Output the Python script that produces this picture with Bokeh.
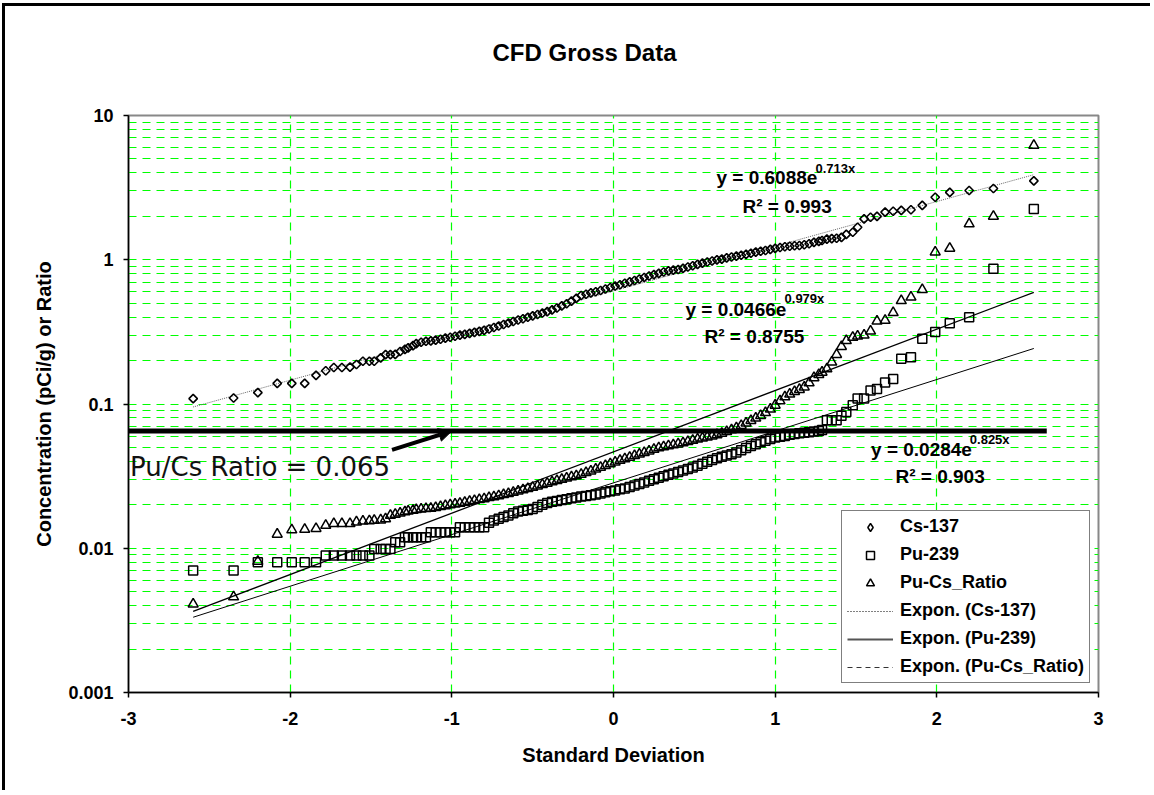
import math
from bokeh.plotting import figure
from bokeh.models import (ColumnDataSource, FixedTicker, Label, Arrow, NormalHead,
                          Legend, LegendItem, Range1d, Title)
from bokeh.embed import file_html
from bokeh.resources import INLINE

# ---------------- data ----------------
Z = [-2.60, -2.35, -2.20, -2.08, -1.99, -1.91, -1.84, -1.78, -1.73, -1.68,
     -1.63, -1.59, -1.55, -1.51, -1.48, -1.44, -1.41, -1.38, -1.35, -1.32,
     -1.29, -1.27, -1.24, -1.22, -1.19,
     -1.16, -1.13, -1.10, -1.07, -1.04, -1.01, -0.98, -0.95, -0.92, -0.89,
     -0.86, -0.83, -0.80, -0.77, -0.74, -0.71, -0.68, -0.65, -0.62, -0.59,
     -0.56, -0.53, -0.50, -0.47, -0.44, -0.41, -0.38, -0.35, -0.32, -0.29,
     -0.26, -0.23, -0.20, -0.17, -0.14, -0.11, -0.08, -0.05, -0.02, 0.01,
     0.04, 0.07, 0.10, 0.13, 0.16, 0.19, 0.22, 0.25, 0.28, 0.31,
     0.34, 0.37, 0.40, 0.43, 0.46, 0.49, 0.52, 0.55, 0.58, 0.61,
     0.64, 0.67, 0.70, 0.73, 0.76, 0.79, 0.82, 0.85, 0.88, 0.91,
     0.94, 0.97, 1.00, 1.03, 1.06, 1.09, 1.12, 1.15, 1.18,
     1.21, 1.24, 1.27, 1.29, 1.32, 1.35, 1.38, 1.41, 1.44, 1.48,
     1.51, 1.55, 1.59, 1.63, 1.68, 1.73, 1.78, 1.84, 1.91, 1.99,
     2.08, 2.20, 2.35, 2.60]

CS137 = [0.109, 0.110, 0.120, 0.139, 0.139, 0.139, 0.158, 0.170, 0.179, 0.179,
         0.180, 0.188, 0.198, 0.198, 0.198, 0.209, 0.220, 0.220, 0.221, 0.231,
         0.239, 0.245, 0.254, 0.262, 0.268,
         0.272, 0.274, 0.277, 0.281, 0.286, 0.290, 0.295, 0.300, 0.304, 0.309,
         0.314, 0.319, 0.324, 0.331, 0.339, 0.347, 0.356, 0.364, 0.373, 0.382,
         0.390, 0.399, 0.408, 0.417, 0.427, 0.437, 0.449, 0.463, 0.479, 0.495,
         0.517, 0.540, 0.565, 0.577, 0.589, 0.600, 0.612, 0.627, 0.642, 0.657,
         0.671, 0.687, 0.703, 0.718, 0.736, 0.754, 0.772, 0.789, 0.805, 0.822,
         0.838, 0.847, 0.855, 0.872, 0.890, 0.909, 0.929, 0.947, 0.965, 0.980,
         0.998, 1.01, 1.03, 1.045, 1.06, 1.075, 1.09, 1.11, 1.13, 1.145,
         1.16, 1.18, 1.20, 1.215, 1.23, 1.24, 1.25, 1.255, 1.27,
         1.29, 1.32, 1.34, 1.36, 1.39, 1.40, 1.41, 1.43, 1.50, 1.55,
         1.68, 1.92, 1.97, 2.00, 2.14, 2.17, 2.20, 2.22, 2.38, 2.71,
         2.93, 3.02, 3.12, 3.52]

PU239 = [0.0070, 0.0070, 0.0080, 0.0080, 0.0080, 0.0080, 0.0080, 0.0089, 0.0089, 0.0089,
         0.0089, 0.0089, 0.0089, 0.0089, 0.0099, 0.0099, 0.0099, 0.0099, 0.0110, 0.0110,
         0.0119, 0.0119, 0.0119, 0.0119, 0.0119,
         0.0119, 0.0129, 0.0129, 0.0129, 0.0129, 0.0129, 0.0129, 0.0140, 0.0140, 0.0140,
         0.0140, 0.0140, 0.0140, 0.0150, 0.0156, 0.0160, 0.0165, 0.0169, 0.0175, 0.0180,
         0.0182, 0.0184, 0.0187, 0.0193, 0.0200, 0.0206, 0.0210, 0.0213, 0.0216, 0.0219,
         0.0222, 0.0225, 0.0228, 0.0230, 0.0233, 0.0236, 0.0240, 0.0244, 0.0248, 0.0251,
         0.0256, 0.0260, 0.0266, 0.0272, 0.0279, 0.0286, 0.0294, 0.0301, 0.0308, 0.0315,
         0.0323, 0.0330, 0.0338, 0.0346, 0.0354, 0.0363, 0.0373, 0.0386, 0.0397, 0.0409,
         0.0420, 0.0431, 0.0440, 0.0449, 0.0462, 0.0478, 0.0495, 0.0511, 0.0526, 0.0542,
         0.0556, 0.0571, 0.0585, 0.0592, 0.0600, 0.0611, 0.0620, 0.0626, 0.0632,
         0.0638, 0.0645, 0.0650, 0.0660, 0.0770, 0.0770, 0.0770, 0.0830, 0.0880, 0.0980,
         0.109, 0.109, 0.124, 0.127, 0.141, 0.149, 0.206, 0.211, 0.283, 0.315,
         0.363, 0.400, 0.865, 2.25]

PU_CS_RATIO = [0.0041, 0.0046, 0.0081, 0.0125, 0.0134, 0.0135, 0.0137, 0.0144, 0.0148, 0.0148,
               0.0148, 0.0152, 0.0154, 0.0155, 0.0156, 0.0157, 0.0160, 0.0169, 0.0172, 0.0175,
               0.0179, 0.0181, 0.0183, 0.0185, 0.0187,
               0.0188, 0.0189, 0.0191, 0.0194, 0.0197, 0.0200, 0.0202, 0.0205, 0.0208, 0.0211,
               0.0214, 0.0217, 0.0220, 0.0224, 0.0227, 0.0231, 0.0235, 0.0239, 0.0244, 0.0249,
               0.0254, 0.0259, 0.0264, 0.0270, 0.0276, 0.0282, 0.0288, 0.0294, 0.0300, 0.0306,
               0.0312, 0.0318, 0.0325, 0.0334, 0.0343, 0.0353, 0.0364, 0.0374, 0.0385, 0.0395,
               0.0406, 0.0417, 0.0427, 0.0438, 0.0449, 0.0460, 0.0472, 0.0484, 0.0496, 0.0505,
               0.0513, 0.0520, 0.0528, 0.0537, 0.0548, 0.0559, 0.0570, 0.0579, 0.0589, 0.0599,
               0.0612, 0.0626, 0.0643, 0.0662, 0.0684, 0.0709, 0.0738, 0.0768, 0.0798, 0.0830,
               0.0870, 0.0920, 0.0980, 0.1050, 0.1120, 0.1170, 0.1220, 0.1260, 0.1310,
               0.140, 0.152, 0.160, 0.166, 0.175, 0.195, 0.220, 0.250, 0.275, 0.290,
               0.295, 0.300, 0.320, 0.375, 0.380, 0.430, 0.520, 0.550, 0.620, 1.13,
               1.20, 1.77, 2.00, 6.20]

SERIES_NAMES = ["Cs-137", "Pu-239", "Pu-Cs_Ratio"]

# exponential trendlines y = a*exp(b*x) over the data extent
TREND_NAMES = ["Expon. (Cs-137)", "Expon. (Pu-239)", "Expon. (Pu-Cs_Ratio)"]
TREND_A = [0.6088, 0.0284, 0.0466]
TREND_B = [0.713, 0.825, 0.979]
TREND_R2 = ["0.993", "0.903", "0.8755"]
TREND_X = [-2.6, 2.6]

RATIO_LEVEL = 0.065
RATIO_TEXT = "Pu/Cs Ratio = 0.065"

X_TICKS = [-3, -2, -1, 0, 1, 2, 3]
X_TICK_LABELS = ["-3", "-2", "-1", "0", "1", "2", "3"]
Y_TICKS = [0.001, 0.01, 0.1, 1, 10]
Y_TICK_LABELS = ["0.001", "0.01", "0.1", "1", "10"]

TITLE = "CFD Gross Data"
X_TITLE = "Standard Deviation"
Y_TITLE = "Concentration (pCi/g) or Ratio"

# ---------------- figure ----------------
FONT = "Liberation Sans"
p = figure(width=1148, height=787, x_range=Range1d(-3, 3), y_range=Range1d(0.001, 10),
           y_axis_type="log", output_backend="svg", toolbar_location=None,
           title=None,
           min_border_left=123, min_border_right=55, min_border_top=109, min_border_bottom=101,
           background_fill_color="white", border_fill_color="white")
p.styles = {"border-left": "3px solid black", "border-top": "3px solid black",
            "margin-left": "2px", "margin-top": "3px"}

# blank spacer next to the frame, then the chart title above it
p.add_layout(Title(text=" ", text_font_size="12px", standoff=34), "above")
p.add_layout(Title(text=TITLE, align="left", offset=364, standoff=0,
                   text_font=FONT, text_font_style="bold", text_font_size="24px",
                   text_color="black"), "above")

p.outline_line_color = "#888888"
p.outline_line_width = 2

p.xaxis.ticker = FixedTicker(ticks=X_TICKS, minor_ticks=[])
p.yaxis.ticker = FixedTicker(ticks=Y_TICKS, minor_ticks=[])
p.xaxis.major_label_overrides = dict(zip(X_TICKS, X_TICK_LABELS))
p.yaxis.major_label_overrides = dict(zip(Y_TICKS, Y_TICK_LABELS))
for ax in (p.xaxis[0], p.yaxis[0]):
    ax.major_label_text_font = FONT
    ax.major_label_text_font_style = "bold"
    ax.major_label_text_font_size = "18px"
    ax.major_label_text_color = "black"
    ax.axis_line_color = "black"
    ax.axis_line_width = 1.5
    ax.major_tick_line_color = "black"
    ax.major_tick_line_width = 1.5
    ax.major_tick_out = 5
    ax.major_tick_in = 0
    ax.minor_tick_out = 0
    ax.minor_tick_in = 0
    ax.axis_label_text_font = FONT
    ax.axis_label_text_font_style = "bold"
    ax.axis_label_text_font_size = "20px"
    ax.axis_label_text_color = "black"
p.xaxis.major_label_standoff = 14
p.yaxis.major_label_standoff = 10
p.xaxis.axis_label = X_TITLE
p.yaxis.axis_label = Y_TITLE
p.xaxis.axis_label_standoff = 16
p.yaxis.axis_label_standoff = 10

GREEN = "#00ff00"
p.xgrid.ticker = FixedTicker(ticks=[t for t in X_TICKS if -3 < t < 3])
p.xgrid.grid_line_color = GREEN
p.xgrid.grid_line_dash = "8 6"
p.xgrid.grid_line_width = 1.2
grid_y = [m * 10.0 ** e for e in range(-3, 1) for m in range(1, 10)]
p.ygrid.ticker = FixedTicker(ticks=[g for g in grid_y if g > 0.0011])
p.ygrid.grid_line_color = GREEN
p.ygrid.grid_line_dash = "8 6"
p.ygrid.grid_line_width = 1.2

# trendlines
trend_styles = [dict(line_color="#666666", line_dash="1 1", line_width=1),
                dict(line_color="black", line_width=1),
                dict(line_color="black", line_width=1.3)]
for a, b, st in zip(TREND_A, TREND_B, trend_styles):
    ys = [a * math.exp(b * x) for x in TREND_X]
    p.line(TREND_X, ys, **st)

# data markers
src = ColumnDataSource(dict(z=Z, cs=CS137, pu=PU239, ratio=PU_CS_RATIO))
r_cs = p.scatter("z", "cs", source=src, marker="square", angle=math.pi / 4, size=6,
                 fill_color=None, line_color="black", line_width=1.6)
r_pu = p.scatter("z", "pu", source=src, marker="square", size=9,
                 fill_color=None, line_color="black", line_width=1.5)
r_ra = p.scatter("z", "ratio", source=src, marker="triangle", size=10,
                 fill_color=None, line_color="black", line_width=1.5)

# legend-only glyphs (no visible data)
NAN2 = [float("nan"), float("nan")]
leg_cs_m = p.scatter(NAN2, NAN2, marker="diamond", size=11, fill_color=None,
                     line_color="black", line_width=1.5)
leg_cs = p.line(NAN2, NAN2, line_color="black", line_dash="1 2", line_width=1)
leg_pu = p.line(NAN2, NAN2, line_color="#555555", line_width=2)
leg_ra = p.line(NAN2, NAN2, line_color="#333333", line_dash="5 4", line_width=1)

# Pu/Cs ratio reference line and arrow
p.add_layout(Arrow(end=None, start=None, x_start=-3.0, y_start=RATIO_LEVEL,
                   x_end=2.68, y_end=RATIO_LEVEL, line_width=5, line_color="black"))
p.add_layout(Arrow(end=NormalHead(size=13, fill_color="black", line_color="black"),
                   x_start=-1.37, y_start=0.0481, x_end=-1.0, y_end=RATIO_LEVEL,
                   line_width=4, line_color="black"))
p.add_layout(Label(x=-2.99, y=0.0366, text=RATIO_TEXT, text_font="DejaVu Sans",
                   text_font_size="26px", text_color="#111111",
                   text_align="left", text_baseline="alphabetic"))

# trend equations
eq_pos = [  # (main x,y), (exp x,y), (R2 x,y)
    ((0.637, 3.69), (1.249, 4.30), (0.798, 2.34)),
    ((1.593, 0.0484), (2.204, 0.0568), (1.744, 0.0316)),
    ((0.445, 0.450), (1.058, 0.538), (0.563, 0.295)),
]
for a, b, r2, (m, e, r) in zip(TREND_A, TREND_B, TREND_R2, eq_pos):
    p.add_layout(Label(x=m[0], y=m[1], text=f"y = {a}e", text_font=FONT,
                       text_font_style="bold", text_font_size="19px", text_color="black",
                       text_align="left", text_baseline="alphabetic"))
    p.add_layout(Label(x=e[0], y=e[1], text=f"{b}x", text_font=FONT,
                       text_font_style="bold", text_font_size="13px", text_color="black",
                       text_align="left", text_baseline="alphabetic"))
    p.add_layout(Label(x=r[0], y=r[1], text=f"R\u00b2 = {r2}", text_font=FONT,
                       text_font_style="bold", text_font_size="19px", text_color="black",
                       text_align="left", text_baseline="alphabetic"))

legend = Legend(items=[LegendItem(label=SERIES_NAMES[0], renderers=[leg_cs_m]),
                       LegendItem(label=SERIES_NAMES[1], renderers=[r_pu]),
                       LegendItem(label=SERIES_NAMES[2], renderers=[r_ra]),
                       LegendItem(label=TREND_NAMES[0], renderers=[leg_cs]),
                       LegendItem(label=TREND_NAMES[1], renderers=[leg_pu]),
                       LegendItem(label=TREND_NAMES[2], renderers=[leg_ra])],
                location=(713, 9), orientation="vertical",
                label_text_font=FONT, label_text_font_style="bold",
                label_text_font_size="18px", label_text_color="black",
                glyph_width=46, glyph_height=20,
                label_height=20, label_standoff=7, spacing=7, padding=5, margin=0,
                border_line_color="black", border_line_width=1,
                background_fill_color="white", background_fill_alpha=1)
p.add_layout(legend, "center")

open("out.html", "w").write(file_html(p, INLINE))
